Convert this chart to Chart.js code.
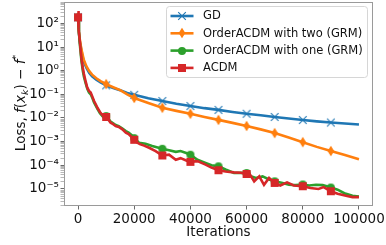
<!DOCTYPE html>
<html>
<head>
<meta charset="utf-8">
<script src="https://cdn.jsdelivr.net/npm/chart.js@4.4.1/dist/chart.umd.min.js"></script>
<style>
  html, body { margin: 0; padding: 0; background: #fff; }
  canvas { display: block; }
</style>
</head>
<body>
<canvas id="lossChart" width="386" height="245"></canvas>
<script>
const seriesNames = ["GD", "OrderACDM with two (GRM)", "OrderACDM with one (GRM)", "ACDM"];
const seriesColors = ["#1f77b4", "#ff7f0e", "#2ca02c", "#d62728"];
const xTicks = [0, 20000, 40000, 60000, 80000, 100000];

// GD and OrderACDM (two) share the same iteration grid
const smoothIters = [0, 300, 600, 1000, 1500, 2000, 3000, 4000, 5000, 6500,
  8000, 10000, 12500, 15000, 17500, 20000, 25000, 30000, 35000, 40000,
  45000, 50000, 55000, 60000, 65000, 70000, 75000, 80000, 85000, 90000, 95000, 100000];
const gdLoss = [180, 40, 18, 9, 4.5, 2.5, 1.3, 0.8, 0.58, 0.42,
  0.32, 0.24, 0.185, 0.15, 0.115, 0.095, 0.068, 0.052, 0.04, 0.032,
  0.026, 0.022, 0.018, 0.015, 0.013, 0.011, 0.0095, 0.0082, 0.0072, 0.0064, 0.0058, 0.0053];
const orderTwoLoss = [180, 45, 22, 11, 5.5, 3, 1.5, 0.95, 0.68, 0.48,
  0.36, 0.27, 0.2, 0.15, 0.1, 0.07, 0.043, 0.027, 0.02, 0.015,
  0.011, 0.0083, 0.0062, 0.0046, 0.0033, 0.0023, 0.0015, 0.00095, 0.0006, 0.0004, 0.00027, 0.00018];

const orderOneIters = [0, 300, 600, 1000, 1300, 1700, 2100, 2700, 3300, 3900,
  4500, 5100, 5700, 6300, 6900, 7800, 8700, 10000, 10800, 11600,
  12500, 13400, 14500, 15800, 17000, 18000, 19000, 20000, 21700, 24000,
  26400, 28000, 30000, 32400, 34800, 36500, 38500, 40000, 42500, 45400,
  47500, 50000, 52500, 55500, 58000, 60000, 61000, 63300, 65700, 68000,
  70000, 72800, 75100, 77500, 80000, 82300, 84700, 87100, 90000, 92400,
  94800, 97700, 100000];
const orderOneLoss = [180, 45, 15, 4.5, 2.2, 1.0, 0.55, 0.3, 0.17, 0.12,
  0.1, 0.07, 0.045, 0.033, 0.024, 0.016, 0.012, 0.012, 0.0095, 0.007,
  0.006, 0.005, 0.0045, 0.0036, 0.0028, 0.0024, 0.0019, 0.0014, 0.0009, 0.00081,
  0.00065, 0.00058, 0.0005, 0.00043, 0.00037, 0.0004, 0.00033, 0.00028, 0.00017, 1.26e-4,
  1.0e-4, 9.0e-5, 6.6e-5, 4.7e-5, 4.8e-5, 4.7e-5, 3.6e-5, 2.9e-5, 3.4e-5, 2.5e-5,
  2.1e-5, 1.8e-5, 1.5e-5, 1.45e-5, 1.55e-5, 1.4e-5, 1.5e-5, 1.45e-5, 1.15e-5, 9.3e-6,
  6.6e-6, 5.1e-6, 4.8e-6];

const acdmIters = [0, 80, 300, 600, 1000, 1300, 1700, 2100, 2700, 3300,
  3900, 4500, 5100, 5700, 6300, 6900, 7800, 8700, 10000, 10800,
  11600, 12500, 13400, 14500, 15800, 17000, 18000, 19000, 20000, 21000,
  22000, 23500, 25300, 27600, 30000, 32400, 34800, 36500, 38500, 40000,
  42500, 45400, 47500, 50000, 52500, 55500, 58000, 60000, 60900, 62700,
  64500, 66200, 68000, 70000, 72000, 74400, 76800, 80000, 82700, 85600,
  87400, 90000, 92400, 95400, 97700, 100000];
const acdmLoss = [180, 330, 60, 19, 6, 2.7, 1.3, 0.72, 0.35, 0.19,
  0.14, 0.12, 0.08, 0.052, 0.038, 0.027, 0.018, 0.013, 0.011, 0.0085,
  0.0063, 0.0055, 0.0046, 0.0042, 0.0033, 0.0024, 0.0021, 0.0016, 0.0012, 0.00092,
  0.00078, 0.00068, 0.00055, 0.0004, 0.00026, 0.00028, 0.00017, 0.0002, 0.00016, 0.00014,
  0.00015, 1.07e-4, 8.0e-5, 6.2e-5, 5.5e-5, 5.0e-5, 4.8e-5, 4.3e-5, 4.7e-5, 2.1e-5,
  3.4e-5, 1.5e-5, 2.9e-5, 1.8e-5, 1.4e-5, 1.9e-5, 1.4e-5, 1.3e-5, 1.1e-5, 1.0e-5,
  1.2e-5, 8.0e-6, 6.3e-6, 5.1e-6, 4.5e-6, 4.5e-6];

const FONT = '"DejaVu Sans", "Liberation Sans", sans-serif';

function makeMarker(kind, color) {
  const c = document.createElement("canvas");
  c.width = 12; c.height = 12;
  const g = c.getContext("2d");
  g.translate(6, 6);
  g.fillStyle = color;
  g.strokeStyle = color;
  if (kind === "x") {
    g.lineWidth = 1.1;
    g.beginPath();
    g.moveTo(-3.8, -3.8); g.lineTo(3.8, 3.8);
    g.moveTo(-3.8, 3.8); g.lineTo(3.8, -3.8);
    g.stroke();
  } else if (kind === "thinDiamond") {
    g.beginPath();
    g.moveTo(0, -5.3); g.lineTo(3.3, 0); g.lineTo(0, 5.3); g.lineTo(-3.3, 0);
    g.closePath();
    g.fill();
  } else if (kind === "circle") {
    g.beginPath();
    g.arc(0, 0, 4, 0, Math.PI * 2);
    g.fill();
  } else {
    g.fillRect(-4, -4, 8, 8);
  }
  return c;
}

const markers = [
  makeMarker("x", seriesColors[0]),
  makeMarker("thinDiamond", seriesColors[1]),
  makeMarker("circle", seriesColors[2]),
  makeMarker("square", seriesColors[3])
];

const zip = (xs, ys) => xs.map((x, i) => ({ x: x, y: ys[i] }));
const isMarker = ctx => ctx.raw && ctx.raw.x % 10000 === 0 && ctx.raw.x < 100000;

function makeDataset(i, points) {
  return {
    label: seriesNames[i],
    data: points,
    borderColor: seriesColors[i],
    backgroundColor: seriesColors[i],
    borderWidth: 2.6,
    pointStyle: markers[i],
    pointRadius: ctx => isMarker(ctx) ? 4 : 0,
    pointHoverRadius: 0,
    order: 4 - i
  };
}

const SUP = { "-": "\u207B", "0": "\u2070", "1": "\u00B9", "2": "\u00B2", "3": "\u00B3",
  "4": "\u2074", "5": "\u2075", "6": "\u2076", "7": "\u2077", "8": "\u2078", "9": "\u2079" };
const supText = n => String(n).split("").map(ch => SUP[ch]).join("");

const decorPlugin = {
  id: "decor",
  afterDatasetsDraw(chart) {
    const ctx = chart.ctx;
    const a = chart.chartArea;
    ctx.save();

    // frame
    ctx.strokeStyle = "#9a9a9a";
    ctx.lineWidth = 1;
    ctx.strokeRect(a.left + 0.5, a.top + 0.5, a.right - a.left - 1, a.bottom - a.top - 1);

    // x title
    ctx.fillStyle = "#111";
    ctx.font = "13.5px " + FONT;
    ctx.textAlign = "center";
    ctx.textBaseline = "middle";
    ctx.fillText("Iterations", (a.left + a.right) / 2, 232);

    // y title with math parts
    const size = 13.5;
    const parts = [
      { t: "Loss, ", f: size + "px " + FONT, dy: 0 },
      { t: "f", f: "italic " + size + "px " + FONT, dy: 0 },
      { t: "(", f: size + "px " + FONT, dy: 0 },
      { t: "x", f: "italic " + size + "px " + FONT, dy: 0 },
      { t: "k", f: "italic " + (size * 0.7) + "px " + FONT, dy: 3 },
      { t: ")", f: size + "px " + FONT, dy: 0 },
      { t: " \u2212 ", f: size + "px " + FONT, dy: 0 },
      { t: "f", f: "italic " + size + "px " + FONT, dy: 0 },
      { t: "*", f: (size * 0.7) + "px " + FONT, dy: -6 }
    ];
    let total = 0;
    parts.forEach(p => { ctx.font = p.f; p.w = ctx.measureText(p.t).width; total += p.w; });
    ctx.translate(25, 103);
    ctx.rotate(-Math.PI / 2);
    ctx.textAlign = "left";
    ctx.textBaseline = "alphabetic";
    let px = -total / 2;
    parts.forEach(p => { ctx.font = p.f; ctx.fillText(p.t, px, p.dy); px += p.w; });
    ctx.setTransform(1, 0, 0, 1, 0, 0);

    // legend
    const box = { left: 166.5, top: 6.5, right: 367.5, bottom: 77.5 };
    ctx.beginPath();
    if (ctx.roundRect) ctx.roundRect(box.left, box.top, box.right - box.left, box.bottom - box.top, 3);
    else ctx.rect(box.left, box.top, box.right - box.left, box.bottom - box.top);
    ctx.fillStyle = "rgba(255,255,255,0.8)";
    ctx.fill();
    ctx.strokeStyle = "#d6d6d6";
    ctx.lineWidth = 1;
    ctx.stroke();

    ctx.font = "11.5px " + FONT;
    ctx.textBaseline = "middle";
    seriesNames.forEach((name, i) => {
      const y = 16 + i * 17.3;
      ctx.strokeStyle = seriesColors[i];
      ctx.lineWidth = 2.6;
      ctx.beginPath();
      ctx.moveTo(170.5, y);
      ctx.lineTo(193.5, y);
      ctx.stroke();
      ctx.drawImage(markers[i], 182 - 6, Math.round(y) - 6);
      ctx.fillStyle = "#111";
      ctx.fillText(name, 203, y + 0.5);
    });
    ctx.restore();
  }
};

new Chart(document.getElementById("lossChart"), {
  type: "line",
  data: {
    datasets: [
      makeDataset(0, zip(smoothIters, gdLoss)),
      makeDataset(1, zip(smoothIters, orderTwoLoss)),
      makeDataset(2, zip(orderOneIters, orderOneLoss)),
      makeDataset(3, zip(acdmIters, acdmLoss))
    ]
  },
  options: {
    responsive: false,
    devicePixelRatio: 1,
    animation: false,
    events: [],
    layout: { padding: { top: 2, right: 13, left: 0, bottom: 0 }, autoPadding: false },
    plugins: { legend: { display: false }, tooltip: { enabled: false } },
    scales: {
      x: {
        type: "linear",
        min: -5000,
        max: 105000,
        afterBuildTicks: s => { s.ticks = xTicks.map(v => ({ value: v })); },
        afterFit: s => { s.height = 39; s.paddingLeft = 0; s.paddingRight = 0; },
        ticks: {
          autoSkip: false, maxRotation: 0, padding: 2, color: "#111",
          font: { family: FONT, size: 13.5 },
          callback: v => String(v)
        },
        grid: { drawOnChartArea: false, tickLength: 3.5, tickColor: "#444", tickWidth: 0.8 },
        border: { display: false }
      },
      y: {
        type: "logarithmic",
        min: 1.9e-6,
        max: 800,
        afterBuildTicks: s => {
          const list = [];
          for (let e = -6; e <= 2; e++) {
            for (let m = 1; m <= 9; m++) {
              const v = m * Math.pow(10, e);
              if (v >= s.min && v <= s.max) list.push({ value: v, decade: m === 1, exp: e });
            }
          }
          s.ticks = list;
        },
        afterFit: s => { s.width = 64; s.paddingTop = 0; s.paddingBottom = 0; },
        ticks: {
          autoSkip: false, padding: 1.5, color: "#111",
          font: { family: FONT, size: 13.5 },
          callback: (v, i, ticks) => ticks[i].decade ? "10" + supText(ticks[i].exp) : ""
        },
        grid: {
          drawOnChartArea: false,
          tickLength: 3.5,
          tickColor: ctx => ctx.tick && ctx.tick.decade ? "#444" : "#888",
          tickWidth: ctx => ctx.tick && ctx.tick.decade ? 0.8 : 0.6
        },
        border: { display: false }
      }
    }
  },
  plugins: [decorPlugin]
});
</script>
</body>
</html>
